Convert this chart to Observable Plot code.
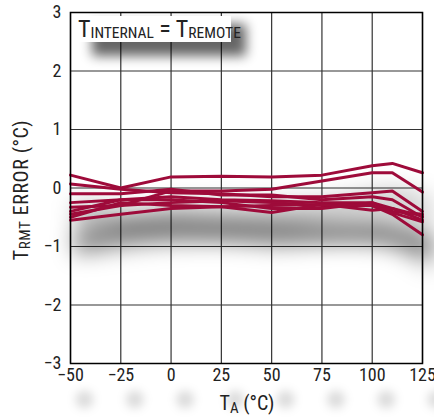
<!DOCTYPE html>
<html><head><meta charset="utf-8">
<script src="https://cdn.jsdelivr.net/npm/d3@7"></script>
<script src="https://cdn.jsdelivr.net/npm/@observablehq/plot@0.6"></script>
<style>
body{margin:0;background:#fff;}
svg{font-family:"Liberation Sans Narrow","Roboto Condensed","Liberation Sans",Arial,sans-serif;}
</style></head><body>
<div id="chart"></div>
<script>
const temps = [-50, -25, 0, 25, 50, 75, 100, 110, 125];
const s1 = [0.22, 0.00, 0.19, 0.20, 0.19, 0.22, 0.38, 0.42, 0.26];
const s2 = [-0.45, -0.30, -0.05, -0.05, -0.02, 0.12, 0.26, 0.26, -0.07];
const s3 = [0.07, -0.02, -0.08, -0.10, -0.15, -0.15, -0.08, -0.05, -0.40];
const s4 = [-0.10, -0.10, -0.02, -0.12, -0.12, -0.20, -0.15, -0.20, -0.50];
const s5 = [-0.25, -0.20, -0.15, -0.20, -0.22, -0.25, -0.25, -0.35, -0.55];
const s6 = [-0.33, -0.30, -0.25, -0.22, -0.25, -0.30, -0.30, -0.45, -0.80];
const s7 = [-0.40, -0.20, -0.20, -0.25, -0.35, -0.35, -0.25, -0.40, -0.45];
const s8 = [-0.55, -0.45, -0.35, -0.32, -0.30, -0.28, -0.30, -0.42, -0.58];
const s9 = [-0.50, -0.25, -0.30, -0.32, -0.42, -0.28, -0.38, -0.35, -0.48];
const series = [s1, s2, s3, s4, s5, s6, s7, s8, s9];
const xTicks = [-50, -25, 0, 25, 50, 75, 100, 125];
const yTicks = [-3, -2, -1, 0, 1, 2, 3];

const data = series.flatMap((s, i) => s.map((v, j) => ({unit: i, t: temps[j], err: v})));
const lineColor = "#9e0b3a";
const fmt = d => (d < 0 ? "\u2212" : "") + Math.abs(d);

const plot = Plot.plot({
  width: 434, height: 418,
  marginLeft: 70, marginRight: 12, marginTop: 12, marginBottom: 55,
  style: {fontSize: "18px", color: "#222", background: "#fff"},
  x: {domain: [-50, 125], ticks: xTicks, tickSize: 0, tickPadding: 5, tickFormat: fmt, label: null},
  y: {domain: [-3, 3], ticks: yTicks, tickSize: 0, tickPadding: 9, tickFormat: fmt, label: null},
  marks: [
    Plot.dot(xTicks, {x: d => d, frameAnchor: "bottom", dy: 36, dx: 14, r: 9, fill: "#000", fillOpacity: 0.14, stroke: null}),
    Plot.gridX(xTicks, {stroke: "#333", strokeOpacity: 1, strokeWidth: 1.2}),
    Plot.gridY(yTicks, {stroke: "#333", strokeOpacity: 1, strokeWidth: 1.2}),
    Plot.line(data, {x: "t", y: "err", z: "unit", stroke: "#000", strokeOpacity: 0.22, strokeWidth: 10, dx: 8, dy: 30}),
    Plot.line(data, {x: "t", y: "err", z: "unit", stroke: lineColor, strokeWidth: 3}),
    Plot.frame({stroke: "#000", strokeWidth: 1.5})
  ]
});
document.getElementById("chart").append(plot);

const svg = d3.select(plot);
const lines = svg.selectAll('g[aria-label="line"]').nodes();
d3.select(lines[0]).style("filter", "blur(11px)");
const dots = svg.selectAll('g[aria-label="dot"]').nodes();
d3.select(dots[0]).style("filter", "blur(5px)");

// Legend box with shadow
const box = svg.append("g");
box.append("rect").attr("x", 92).attr("y", 24).attr("width", 154).attr("height", 32)
  .attr("fill", "#000").attr("opacity", 0.6).style("filter", "blur(6px)");
box.append("rect").attr("x", 75).attr("y", 16).attr("width", 156).attr("height", 26).attr("fill", "#fff");
const lt = box.append("text").attr("x", 78).attr("y", 37).attr("text-anchor", "start").attr("font-size", 24).attr("fill", "#222");
lt.append("tspan").text("T");
lt.append("tspan").attr("font-size", 15.5).attr("dy", 1).text("INTERNAL");
lt.append("tspan").attr("dy", -1).text(" = T");
lt.append("tspan").attr("font-size", 15.5).attr("dy", 1).text("REMOTE");

// Axis titles
const xl = svg.append("text").attr("x", 247).attr("y", 410).attr("text-anchor", "middle").attr("font-size", 20).attr("fill", "#222");
xl.append("tspan").text("T");
xl.append("tspan").attr("font-size", 15).attr("dy", 3).text("A");
xl.append("tspan").attr("dy", -3).text(" (°C)");

const yl = svg.append("text").attr("transform", "translate(28,190) rotate(-90)").attr("text-anchor", "middle").attr("font-size", 20).attr("fill", "#222").attr("letter-spacing", 0.6);
yl.append("tspan").text("T");
yl.append("tspan").attr("font-size", 15).attr("dy", 2).text("RMT");
yl.append("tspan").attr("dy", -2).text(" ERROR (°C)");
</script>
</body></html>
